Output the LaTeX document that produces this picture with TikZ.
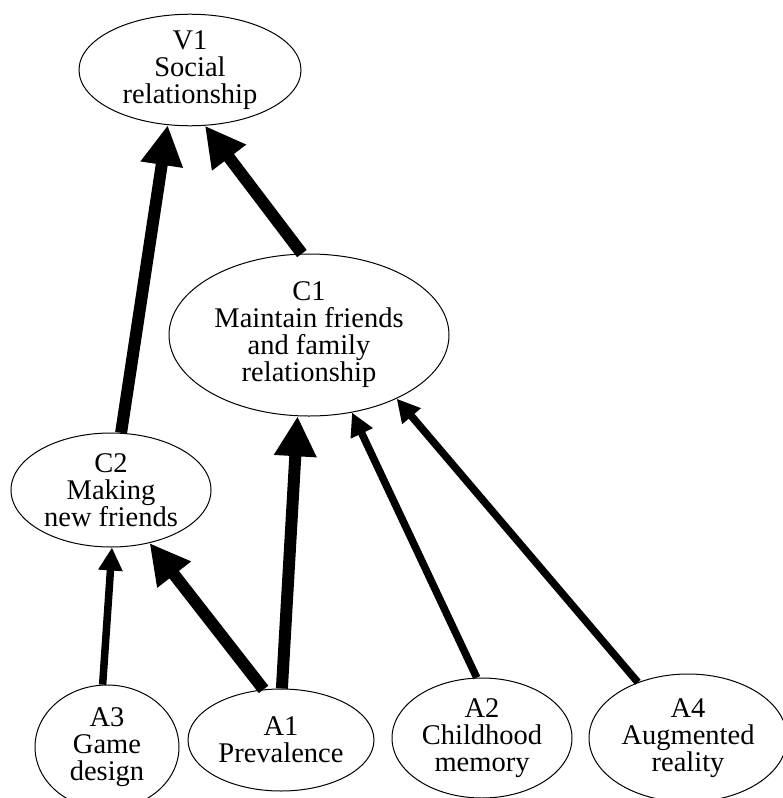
\documentclass[tikz,border=0pt]{standalone}
\usepackage{fontspec}
\setmainfont{Liberation Serif}
\usetikzlibrary{shapes.geometric, arrows.meta}

\begin{document}
\begin{tikzpicture}[x=1pt, y=-1pt,
  concept/.style={ellipse, draw, line width=1pt, inner sep=0pt, align=center,
                  font=\fontsize{28.5}{27}\selectfont},
  strong link/.style={line width=12pt, -{Triangle[length=40pt, width=40pt]}},
  weak link/.style={line width=7.5pt, -{Triangle[length=23pt, width=23pt]}}]

 \useasboundingbox (0,0) rectangle (782,798);

 %%%  nodes

 % value
 \node [concept, minimum width=222pt, minimum height=110pt] (v1) at (190,70) {V1\\Social\\relationship};

 % consequences
 \node [concept, minimum width=280pt, minimum height=162pt] (c1) at (309,335) {C1\\Maintain friends\\and family\\relationship};
 \node [concept, minimum width=200pt, minimum height=114pt] (c2) at (111,490) {C2\\Making\\new friends};

 % attributes
 \node [concept, minimum width=144pt, minimum height=124pt] (a3) at (107,747) {A3\\Game\\design};
 \node [concept, minimum width=186pt, minimum height=102pt] (a1) at (281,740) {A1\\Prevalence};
 \node [concept, minimum width=180pt, minimum height=120pt] (a2) at (482,738) {A2\\Childhood\\memory};
 \node [concept, minimum width=198pt, minimum height=128pt] (a4) at (688,738) {A4\\Augmented\\reality};

 %%%  links

 \draw [strong link] (c2.80) to (v1.248);
 \draw [strong link] (c1.95) to (v1.285);
 \draw [strong link] (a1.109) to (c2.-54);
 \draw [strong link] (a1.89) to (c1.262);
 \draw [weak link] (a3.94) to (c2.-89);
 \draw [weak link] (a2.95) to (c1.-61);
 \draw [weak link] (a4.132) to (c1.-36);

\end{tikzpicture}
\end{document}
